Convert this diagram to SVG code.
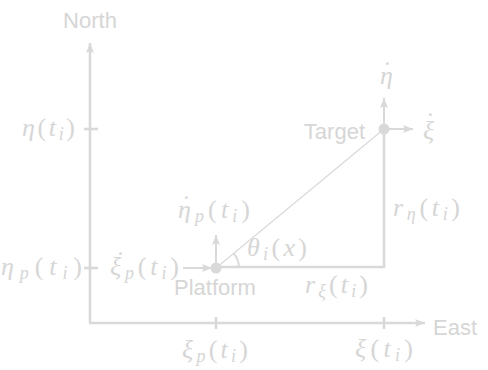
<svg xmlns="http://www.w3.org/2000/svg" width="488" height="370" viewBox="0 0 488 370">
<defs>
<marker id="ah" viewBox="0 0 10 8" refX="10" refY="4" markerWidth="10" markerHeight="8" markerUnits="userSpaceOnUse" orient="auto">
<path d="M0,0 L10,4 L0,8 L2,4 Z" fill="#d9d9d9"/>
</marker>
</defs>
<style>
.ax{stroke:#d9d9d9;stroke-width:2.6;fill:none}
.vel{stroke:#d9d9d9;stroke-width:2;fill:none}
.thin{stroke:#d9d9d9;stroke-width:1.2;fill:none}
.sans{font-family:"Liberation Sans",Arial,sans-serif;font-size:22px;fill:#d6d6d6}
.m{font-family:"Liberation Serif","DejaVu Serif",serif;font-size:26px;fill:#d6d6d6}
.i{font-style:italic}
.s{font-size:18px;font-style:italic}
.dot{fill:#d9d9d9}
</style>
<g id="connectors">
<line class="ax" x1="90" y1="323" x2="90" y2="43" marker-end="url(#ah)"/>
<line class="ax" x1="89" y1="323" x2="425" y2="323" marker-end="url(#ah)"/>
<line class="ax" x1="84" y1="129" x2="98" y2="129"/>
<line class="ax" x1="84" y1="268" x2="98" y2="268"/>
<line class="ax" x1="216" y1="317" x2="216" y2="329"/>
<line class="ax" x1="384" y1="317" x2="384" y2="329"/>
<line class="ax" x1="216" y1="267" x2="385" y2="267"/>
<line class="ax" x1="384" y1="268" x2="384" y2="129"/>
<line class="thin" x1="216" y1="268" x2="384" y2="129"/>
<path class="vel" d="M239,268 A23,23 0 0 0 233.7,253.4"/>
<line class="vel" x1="183" y1="268" x2="212" y2="268" marker-end="url(#ah)"/>
<line class="vel" x1="216" y1="268" x2="216" y2="235" marker-end="url(#ah)"/>
<line class="vel" x1="384" y1="129" x2="384" y2="98" marker-end="url(#ah)"/>
<line class="vel" x1="384" y1="129" x2="413" y2="129" marker-end="url(#ah)"/>
</g>
<g id="platform">
<circle class="dot" cx="216" cy="268" r="5.5"/>
<text class="sans" x="174" y="295">Platform</text>
</g>
<g id="target">
<circle class="dot" cx="384" cy="129" r="5.5"/>
<text class="sans" x="365" y="139" text-anchor="end">Target</text>
</g>
<g id="labels">
<text class="sans" x="90" y="28" text-anchor="middle">North</text>
<text class="sans" x="433" y="335">East</text>
<text class="m" x="22" y="136" textLength="53"><tspan class="i">η</tspan>(<tspan class="i">t</tspan><tspan class="s" dy="4">i</tspan><tspan dy="-4">)</tspan></text>
<text class="m" x="1" y="275" textLength="81"><tspan class="i">η</tspan><tspan class="s" dy="4">p</tspan><tspan dy="-4">(</tspan><tspan class="i">t</tspan><tspan class="s" dy="4">i</tspan><tspan dy="-4">)</tspan></text>
<text class="m" x="116" y="269">˙<tspan x="110" y="275" textLength="69"><tspan class="i">ξ</tspan><tspan class="s" dy="4">p</tspan><tspan dy="-4">(</tspan><tspan class="i">t</tspan><tspan class="s" dy="4">i</tspan><tspan dy="-4">)</tspan></tspan></text>
<text class="m" x="182" y="213">˙<tspan x="178" y="218" textLength="72"><tspan class="i">η</tspan><tspan class="s" dy="4">p</tspan><tspan dy="-4">(</tspan><tspan class="i">t</tspan><tspan class="s" dy="4">i</tspan><tspan dy="-4">)</tspan></tspan></text>
<text class="m" x="247" y="256" textLength="60"><tspan class="i">θ</tspan><tspan class="s" dy="4">i</tspan><tspan dy="-4">(</tspan><tspan class="i">x</tspan>)</text>
<text class="m" x="305" y="293" textLength="63"><tspan class="i">r</tspan><tspan class="s" dy="4">ξ</tspan><tspan dy="-4">(</tspan><tspan class="i">t</tspan><tspan class="s" dy="4">i</tspan><tspan dy="-4">)</tspan></text>
<text class="m" x="393" y="216" textLength="67"><tspan class="i">r</tspan><tspan class="s" dy="4">η</tspan><tspan dy="-4">(</tspan><tspan class="i">t</tspan><tspan class="s" dy="4">i</tspan><tspan dy="-4">)</tspan></text>
<text class="m" x="383" y="79">˙<tspan class="i" x="380" y="84">η</tspan></text>
<text class="m" x="426" y="130">˙<tspan class="i" x="423" y="139">ξ</tspan></text>
<text class="m" x="182" y="358" textLength="66"><tspan class="i">ξ</tspan><tspan class="s" dy="4">p</tspan><tspan dy="-4">(</tspan><tspan class="i">t</tspan><tspan class="s" dy="4">i</tspan><tspan dy="-4">)</tspan></text>
<text class="m" x="355" y="357" textLength="58"><tspan class="i">ξ</tspan>(<tspan class="i">t</tspan><tspan class="s" dy="4">i</tspan><tspan dy="-4">)</tspan></text>
</g>
</svg>
